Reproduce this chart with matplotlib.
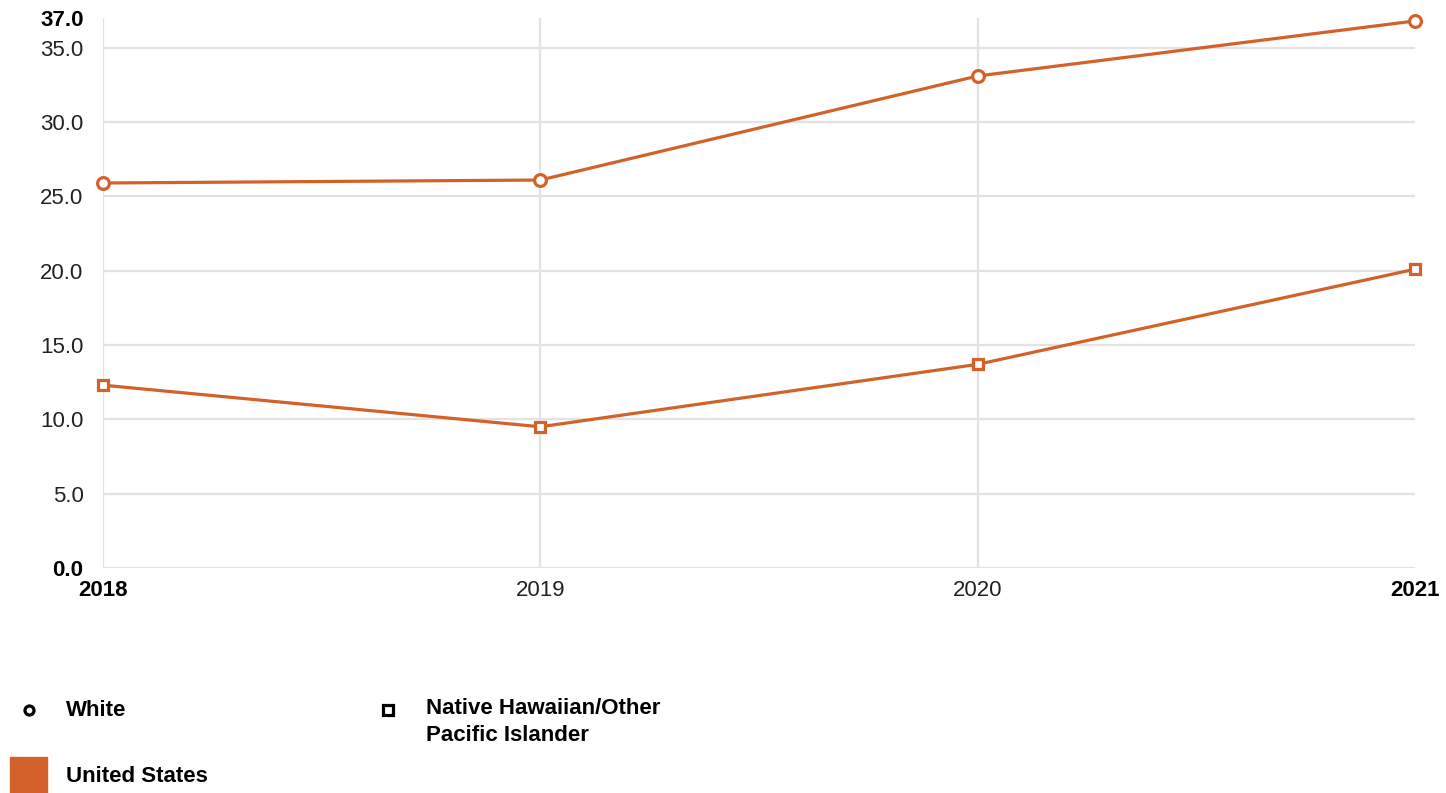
import matplotlib.pyplot as plt
from matplotlib.lines import Line2D
from matplotlib.patches import Rectangle

plt.rcParams['font.family'] = ['Liberation Sans', 'DejaVu Sans']

years = [2018, 2019, 2020, 2021]
white = [25.9, 26.1, 33.1, 36.8]
nhpi = [12.3, 9.5, 13.7, 20.1]
y_ticks = [0, 5, 10, 15, 20, 25, 30, 35, 37]

orange = '#D2622A'
grid = '#E3E3E3'

fig = plt.figure(figsize=(14.46, 7.93), dpi=100)
ax = fig.add_axes([103 / 1446, 1 - 568 / 793, (1415 - 103) / 1446, (568 - 18) / 793])

ax.set_xlim(years[0], years[-1])
ax.set_ylim(0, 37)

# grid lines
for v in y_ticks[:-1]:
    ax.axhline(v, color=grid, lw=1.6, zorder=0)
for yr in years[:-1]:
    ax.axvline(yr, color=grid, lw=1.6, zorder=0)

ax.plot(years, white, color=orange, lw=2.3, marker='o', ms=8.5,
        mfc='white', mec=orange, mew=2.3, zorder=3, clip_on=False)
ax.plot(years, nhpi, color=orange, lw=2.3, marker='s', ms=7.5,
        mfc='white', mec=orange, mew=2.3, zorder=3, clip_on=False)

for s in ax.spines.values():
    s.set_visible(False)

ax.set_yticks(y_ticks)
ax.set_yticklabels([f'{v:.1f}' for v in y_ticks])
ax.set_xticks(years)
ax.set_xticklabels([str(y) for y in years])
ax.tick_params(length=0, labelsize=16, colors='#222222')
ax.tick_params(axis='y', pad=14)
ax.tick_params(axis='x', pad=9)
for lab in ax.get_yticklabels():
    if lab.get_text() in ('37.0', '0.0'):
        lab.set_fontweight('bold')
        lab.set_color('black')
for lab in ax.get_xticklabels():
    if lab.get_text() in ('2018', '2021'):
        lab.set_fontweight('bold')
        lab.set_color('black')

# legend
def fx(px):
    return px / 1446

def fy(py):
    return 1 - py / 793

fig.add_artist(Line2D([fx(29)], [fy(710)], marker='o', ms=6.5, mfc='white',
                      mec='black', mew=2.3, ls='none'))
fig.add_artist(Line2D([fx(388)], [fy(710)], marker='s', ms=6.5, mfc='white',
                      mec='black', mew=2.3, ls='none'))
fig.text(fx(66), fy(710), 'White', fontsize=16, fontweight='bold', va='center')
fig.text(fx(426), fy(698), 'Native Hawaiian/Other\nPacific Islander', fontsize=16,
         fontweight='bold', va='top', linespacing=1.35)
fig.add_artist(Rectangle((fx(10), fy(793)), fx(37), 36 / 793, color=orange,
                         transform=fig.transFigure))
fig.text(fx(66), fy(777), 'United States', fontsize=16, fontweight='bold', va='center')

fig.savefig('out.png', dpi=100, facecolor='white')
